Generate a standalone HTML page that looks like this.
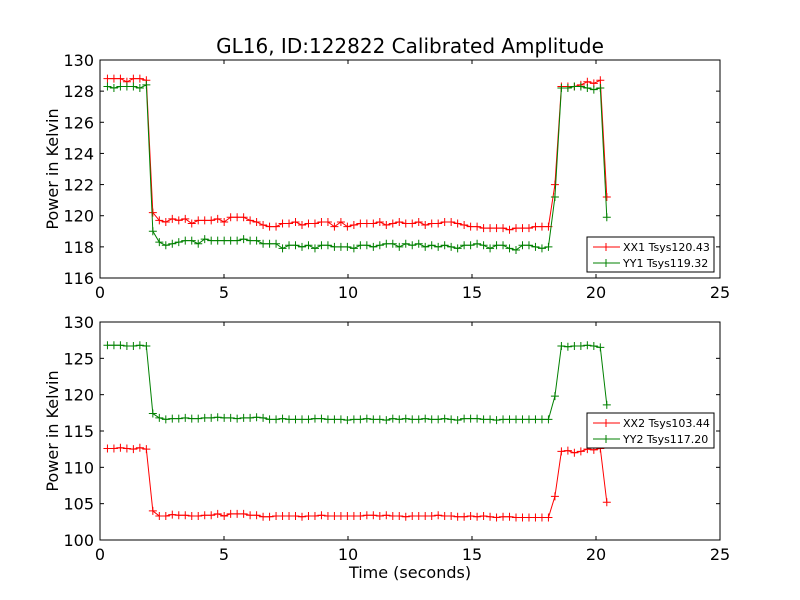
<!DOCTYPE html>
<html><head><meta charset="utf-8"><style>
body{margin:0;background:#fff}
svg{display:block;font-family:"DejaVu Sans","Liberation Sans",sans-serif}
</style></head><body>
<svg id="chart" width="800" height="600" xmlns="http://www.w3.org/2000/svg">
<rect width="800" height="600" fill="#fff"/>
<text x="410" y="53" font-size="20" text-anchor="middle">GL16, ID:122822 Calibrated Amplitude</text>
<g id="g1"></g>
<g id="g2"></g>
</svg>
<script>
const tStart = 0.3;
const tStep = 0.2615;
const xTicks = [0,5,10,15,20,25];
const yTicksTop = [116,118,120,122,124,126,128,130];
const yTicksBot = [100,105,110,115,120,125,130];
const xx1 = [128.8,128.8,128.8,128.6,128.8,128.8,128.7,120.2,
119.7,119.6,119.8,119.7,119.8,119.5,119.7,119.7,119.7,119.8,
119.6,119.9,119.9,119.9,119.7,119.6,119.4,119.3,119.3,119.5,
119.5,119.6,119.4,119.5,119.5,119.6,119.6,119.3,119.6,119.3,
119.4,119.5,119.5,119.5,119.6,119.4,119.5,119.6,119.5,119.5,
119.6,119.4,119.5,119.5,119.6,119.6,119.5,119.4,119.3,119.3,
119.2,119.2,119.2,119.2,119.1,119.2,119.2,119.2,119.3,119.3,
119.3,122.0,128.3,128.3,128.3,128.4,128.6,128.5,128.7,121.2];
const yy1 = [128.3,128.2,128.3,128.3,128.3,128.2,128.4,119.0,
118.3,118.1,118.2,118.3,118.4,118.4,118.2,118.5,118.4,118.4,
118.4,118.4,118.4,118.5,118.4,118.4,118.2,118.2,118.2,117.9,
118.1,118.1,118.0,118.1,117.9,118.1,118.1,118.0,118.0,118.0,
117.9,118.1,118.1,118.0,118.1,118.2,118.2,118.0,118.2,118.1,
118.2,118.0,118.1,118.0,118.1,118.0,117.9,118.1,118.1,118.2,
118.1,117.9,118.1,118.1,117.9,117.8,118.1,118.1,118.0,117.9,
118.0,121.2,128.2,128.2,128.3,128.3,128.2,128.1,128.2,119.9];
const xx2 = [112.6,112.6,112.7,112.6,112.5,112.7,112.5,104.0,
103.3,103.3,103.5,103.4,103.4,103.3,103.3,103.4,103.4,103.6,
103.3,103.6,103.6,103.6,103.4,103.4,103.2,103.2,103.3,103.3,
103.3,103.3,103.2,103.3,103.3,103.4,103.3,103.3,103.3,103.3,
103.3,103.3,103.4,103.4,103.3,103.4,103.3,103.3,103.2,103.3,
103.3,103.3,103.3,103.4,103.3,103.3,103.2,103.2,103.3,103.2,
103.3,103.2,103.1,103.2,103.2,103.1,103.1,103.1,103.1,103.1,
103.1,106.0,112.2,112.3,112.0,112.2,112.5,112.4,112.6,105.2];
const yy2 = [126.8,126.8,126.8,126.7,126.7,126.8,126.7,117.4,
116.8,116.6,116.7,116.7,116.8,116.7,116.7,116.8,116.8,116.9,
116.8,116.8,116.7,116.8,116.8,116.9,116.8,116.6,116.6,116.7,
116.6,116.6,116.6,116.6,116.7,116.7,116.6,116.6,116.6,116.5,
116.6,116.6,116.7,116.6,116.6,116.5,116.7,116.6,116.7,116.6,
116.6,116.7,116.6,116.6,116.7,116.6,116.5,116.7,116.7,116.7,
116.6,116.6,116.5,116.6,116.6,116.6,116.6,116.6,116.6,116.6,
116.6,119.8,126.7,126.6,126.7,126.7,126.8,126.7,126.5,118.6];
const legTop = ["XX1 Tsys120.43","YY1 Tsys119.32"];
const legBot = ["XX2 Tsys103.44","YY2 Tsys117.20"];

const NS="http://www.w3.org/2000/svg";
function mk(tag,attrs,parent){const e=document.createElementNS(NS,tag);for(const k in attrs)e.setAttribute(k,attrs[k]);parent.appendChild(e);return e;}

function panel(g,top,bot,yTicks,ymin,ymax,series,colors,legend,legY,xLabel){
  const L=100,R=720;
  const X=v=>L+(v-0)/(25-0)*(R-L);
  const Y=v=>bot-(v-ymin)/(ymax-ymin)*(bot-top);
  const frame=mk('rect',{x:L,y:top,width:R-L,height:bot-top,fill:'#fff',stroke:'#000','stroke-width':1},g);
  
  
  xTicks.forEach(v=>{
    mk('line',{x1:X(v),x2:X(v),y1:bot,y2:bot-4,stroke:'#000'},g);
    mk('line',{x1:X(v),x2:X(v),y1:top,y2:top+4,stroke:'#000'},g);
    const t=mk('text',{x:X(v),y:bot+20,'font-size':16,'text-anchor':'middle'},g);
    t.textContent=v;
    
    
  });
  yTicks.forEach(v=>{
    mk('line',{x1:L,x2:L+4,y1:Y(v),y2:Y(v),stroke:'#000'},g);
    mk('line',{x1:R,x2:R-4,y1:Y(v),y2:Y(v),stroke:'#000'},g);
    const t=mk('text',{x:L-6,y:Y(v)+6,'font-size':16,'text-anchor':'end'},g);
    t.textContent=v;
    
    
  });
  const yl=mk('text',{x:0,y:0,'font-size':16,'text-anchor':'middle',transform:`translate(58,${(top+bot)/2}) rotate(-90)`},g);
  yl.textContent='Power in Kelvin';
  
  
  if(xLabel){
    const xl=mk('text',{x:410,y:bot+38,'font-size':16,'text-anchor':'middle'},g);
    xl.textContent=xLabel;
    
    
  }
  series.forEach((s,si)=>{
    const pts=s.map((v,i)=>[X(tStart+i*tStep),Y(v)]);
    const p=mk('polyline',{points:pts.map(q=>q.join(',')).join(' '),fill:'none',stroke:colors[si],'stroke-width':1},g);
    
    
    const m=mk('path',{d:pts.map(q=>`M${q[0]-4},${q[1]}h8M${q[0]},${q[1]-4}v8`).join(''),stroke:colors[si],'stroke-width':1},g);
    
    
  });
  const lg=mk('g',{},g);
  
  
  mk('rect',{x:587,y:legY,width:127,height:35,fill:'#fff',stroke:'#000','stroke-width':1},lg);
  legend.forEach((txt,i)=>{
    const yy=legY+10+i*16;
    mk('line',{x1:593,x2:620,y1:yy,y2:yy,stroke:colors[i]},lg);
    mk('path',{d:`M602,${yy}h8M606,${yy-4}v8`,stroke:colors[i]},lg);
    const t=mk('text',{x:623,y:yy+4,'font-size':11},lg);
    t.textContent=txt;
    
    
  });
}
const colors=['#ff0000','#008000'];
panel(document.getElementById('g1'),60,278,yTicksTop,116,130,[xx1,yy1],colors,legTop,237,null);
panel(document.getElementById('g2'),322,540,yTicksBot,100,130,[xx2,yy2],colors,legBot,413,'Time (seconds)');
</script>
</body></html>
